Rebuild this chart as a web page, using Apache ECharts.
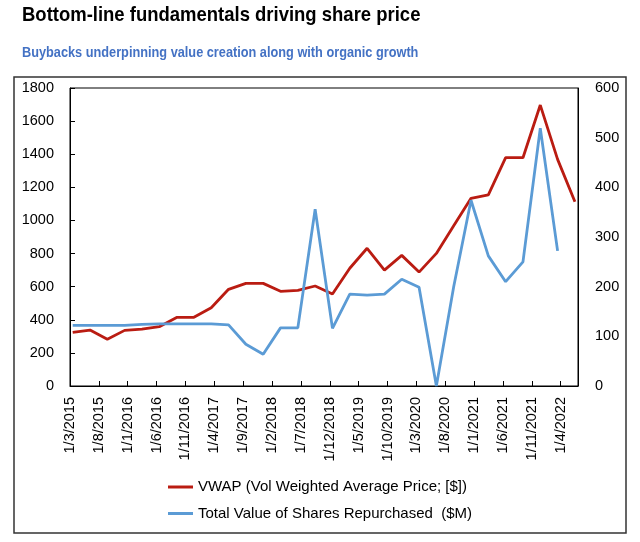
<!DOCTYPE html>
<html>
<head>
<meta charset="utf-8">
<script src="https://cdn.jsdelivr.net/npm/echarts@6/dist/echarts.min.js"></script>
<style>
html,body{margin:0;padding:0;background:#fff;}
#chart{width:640px;height:542px;}
</style>
</head>
<body>
<div id="chart"></div>
<script>
// ---- data ----
const quarterDates = [
  '15/3/2015','15/6/2015','15/9/2015','15/12/2015',
  '15/3/2016','15/6/2016','15/9/2016','15/12/2016',
  '15/3/2017','15/6/2017','15/9/2017','15/12/2017',
  '15/3/2018','15/6/2018','15/9/2018','15/12/2018',
  '15/3/2019','15/6/2019','15/9/2019','15/12/2019',
  '15/3/2020','15/6/2020','15/9/2020','15/12/2020',
  '15/3/2021','15/6/2021','15/9/2021','15/12/2021',
  '15/3/2022','15/6/2022'
];
const vwap = [324, 338, 282, 336, 344, 358, 414, 415, 473, 584, 620, 620, 572, 578, 604,
              556, 711, 832, 700, 789, 688, 801, 968, 1134, 1154, 1379, 1379, 1697, 1369, 1113];
const buybacks = [122, 122, 122, 122, 124, 125, 125, 125, 125, 123, 84, 64, 117, 117, 356,
                  116, 185, 183, 185, 215, 199, 0, 200, 374, 262, 210, 250, 519, 272];
const tickLabels = ['1/3/2015','1/8/2015','1/1/2016','1/6/2016','1/11/2016','1/4/2017',
  '1/9/2017','1/2/2018','1/7/2018','1/12/2018','1/5/2019','1/10/2019','1/3/2020',
  '1/8/2020','1/1/2021','1/6/2021','1/11/2021','1/4/2022'];
const seriesNames = ['VWAP (Vol Weighted Average Price; [$])', 'Total Value of Shares Repurchased  ($M)'];
const titleText = 'Bottom-line fundamentals driving share price';
const subtitleText = 'Buybacks underpinning value creation along with organic growth';

// ---- helpers ----
function monthIndex(s) {
  const p = s.split('/').map(Number);
  return (p[2] - 2015) * 12 + (p[1] - 3) + (p[0] - 1) / 30;
}
const labelByMonth = {};
tickLabels.forEach(l => { labelByMonth[Math.round(monthIndex(l))] = l; });

const FONT = "'Liberation Sans', Arial, sans-serif";

const chart = echarts.init(document.getElementById('chart'), null, {renderer: 'canvas'});
chart.setOption({
  animation: false,
  backgroundColor: '#fff',
  textStyle: {fontFamily: FONT},
  graphic: [
    {type: 'text', x: 22, y: 15, scaleX: 0.88,
     style: {text: titleText, fontFamily: FONT, fontWeight: 'bold', fontSize: 21,
             fill: '#000', verticalAlign: 'middle', align: 'left'}},
    {type: 'text', x: 22, y: 53, scaleX: 0.91,
     style: {text: subtitleText, fontFamily: FONT, fontWeight: 'bold', fontSize: 14,
             fill: '#4472C4', verticalAlign: 'middle', align: 'left'}},
    {type: 'rect', shape: {x: 14, y: 77, width: 612, height: 456},
     style: {fill: 'none', stroke: '#333', lineWidth: 1.5}, z: -1}
  ],
  grid: {left: 70, top: 88, right: 62, bottom: 156, show: true,
         borderColor: '#000', borderWidth: 1, backgroundColor: 'transparent'},
  legend: {
    orient: 'vertical', left: 163, top: 472,
    itemWidth: 25, itemHeight: 3, itemGap: 6.5,
    icon: 'rect',
    textStyle: {fontFamily: FONT, fontSize: 15, color: '#000', lineHeight: 20},
    data: seriesNames
  },
  xAxis: {
    type: 'value', min: 0, max: 88, interval: 5,
    axisLine: {show: true, lineStyle: {color: '#000', width: 1}},
    axisTick: {show: true, inside: true, length: 5, lineStyle: {color: '#000'}},
    splitLine: {show: false},
    axisLabel: {
      rotate: 90, margin: 11, fontSize: 14.5, color: '#000', fontFamily: FONT,
      showMaxLabel: false,
      formatter: v => labelByMonth[v] || ''
    }
  },
  yAxis: [
    {type: 'value', min: 0, max: 1800, interval: 200, position: 'left',
     axisLine: {show: true, lineStyle: {color: '#000'}},
     axisTick: {show: true, inside: true, length: 5, lineStyle: {color: '#000'}},
     splitLine: {show: false},
     axisLabel: {margin: 16, fontSize: 14.5, color: '#000', fontFamily: FONT,
                 formatter: v => String(v)}},
    {type: 'value', min: 0, max: 600, interval: 100, position: 'right',
     axisLine: {show: true, lineStyle: {color: '#000'}},
     axisTick: {show: false},
     splitLine: {show: false},
     axisLabel: {margin: 17, fontSize: 14.5, color: '#000', fontFamily: FONT,
                 formatter: v => String(v)}}
  ],
  series: [
    {name: seriesNames[0], type: 'line', yAxisIndex: 0, showSymbol: false, symbol: 'none',
     color: '#BA1C12', lineStyle: {width: 2.8, color: '#BA1C12'},
     data: vwap.map((v, i) => [monthIndex(quarterDates[i]), v])},
    {name: seriesNames[1], type: 'line', yAxisIndex: 1, showSymbol: false, symbol: 'none',
     color: '#5B9BD5', lineStyle: {width: 2.8, color: '#5B9BD5'},
     data: buybacks.map((v, i) => [monthIndex(quarterDates[i]), v])}
  ]
});
</script>
</body>
</html>
